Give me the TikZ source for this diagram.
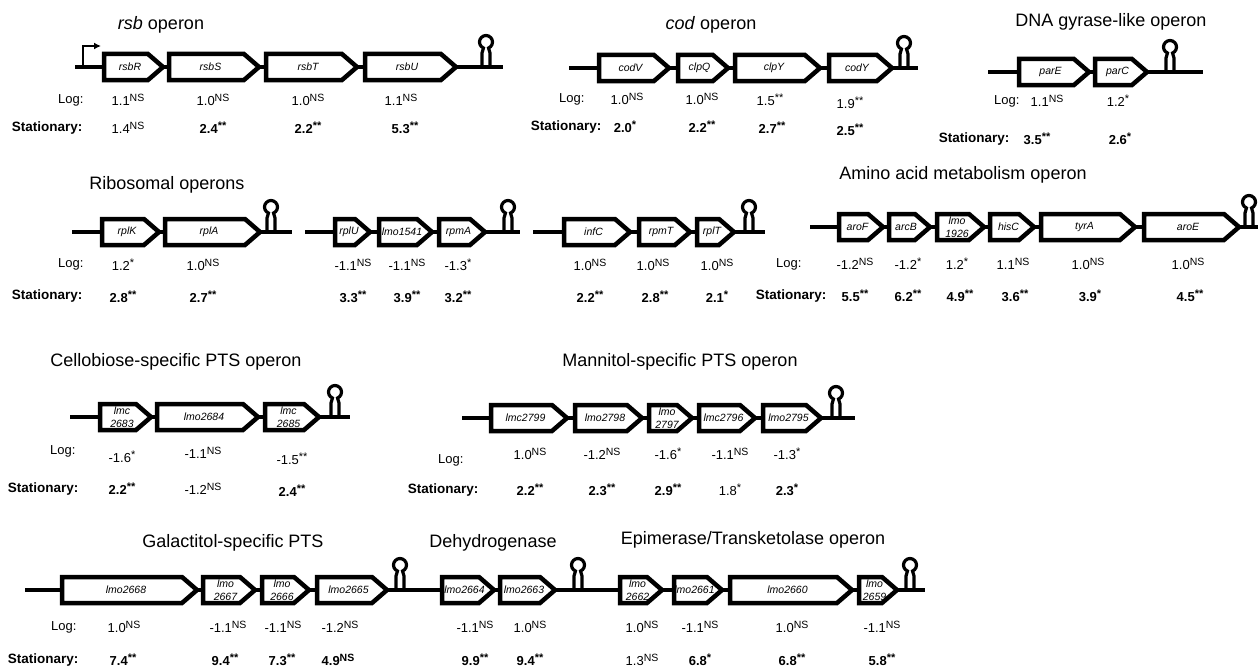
\documentclass[tikz,border=0pt]{standalone}
\usepackage{fontspec}
\setmainfont{Liberation Sans}
\usetikzlibrary{positioning,arrows.meta}

\newcommand{\sNS}{\raisebox{0.32em}{\fontsize{10.5}{11}\selectfont NS}}
\newcommand{\sA}{\raisebox{0.3em}{\fontsize{11}{11}\selectfont *}}
\newcommand{\sAA}{\raisebox{0.3em}{\fontsize{11}{11}\selectfont **}}
\newcommand{\bv}[1]{\textbf{#1}}
% gene: node name, left x, tip x, y, label
\newcommand{\gene}[5]{%
  \draw[genebox] ({#2+2},{-#4+\GeneHalf}) -- ({#3-3-\TipLen},{-#4+\GeneHalf}) -- ({#3-3},-#4)
    -- ({#3-3-\TipLen},{-#4-\GeneHalf}) -- ({#2+2},{-#4-\GeneHalf}) -- cycle;
  \node[genename] (#1) at ({(#2+#3-8)/2},-#4) {#5};}
% terminator: x, y
\newcommand{\hairpin}[2]{%
  \draw[dna] ({#1-4},-#2) -- ++(0,14) -- ++(1.46,5) arc[start angle=247,end angle=-67,radius=6.5]
    -- ++(1.46,-5) -- ++(0,-14);}

\begin{document}
\begin{tikzpicture}[x=1pt,y=1pt,
  genebox/.style={draw=black,fill=white,line width=4.5pt,line join=miter},
  genename/.style={font=\fontsize{10.5}{12.5}\selectfont\itshape,align=center,inner sep=0pt},
  dna/.style={line width=3.2pt},
  promoter/.style={line width=2pt,-{Latex[length=7pt,width=7pt]}},
  optitle/.style={font=\fontsize{18}{20}\selectfont},
  rowlabel/.style={font=\fontsize{13}{14}\selectfont,anchor=east},
  statlabel/.style={font=\fontsize{13.5}{15}\selectfont\bfseries,anchor=east},
  val/.style={font=\fontsize{13}{14}\selectfont}]
\pgfmathsetmacro{\GeneHalf}{13}
\pgfmathsetmacro{\TipLen}{15}
\useasboundingbox[fill=white] (0,0) rectangle (1258,-669);

% RSB
\node[optitle] (rsbtitle) at (161,-25) {\textit{rsb} operon};
\coordinate (rsbin) at (75,-67);
\coordinate (rsbout) at (503,-67);
\coordinate (rsbprom) at (83,-67);
\draw[dna] (rsbin) -- (rsbout);
\draw[promoter] (rsbprom) |- ++(18,21);
\gene{rsbR}{102}{166}{67}{rsbR}
\gene{rsbS}{167}{262}{67}{rsbS}
\gene{rsbT}{264}{360}{67}{rsbT}
\gene{rsbU}{363}{459}{67}{rsbU}
\hairpin{486}{67}
\node[rowlabel] (rsblog) at (87,-100) {Log:};
\foreach \x/\v [count=\i] in {128/{1.1\sNS},213/{1.0\sNS},308/{1.0\sNS},401/{1.1\sNS}}
  \node[val] (rsblog\i) at (\x,-100) {\v};
\node[statlabel] (rsbstat) at (86,-128) {Stationary:};
\foreach \x/\v [count=\i] in {128/{1.4\sNS},213/{\bv{2.4\sAA}},308/{\bv{2.2\sAA}},405/{\bv{5.3\sAA}}}
  \node[val] (rsbstat\i) at (\x,-128) {\v};

% COD
\node[optitle] (codtitle) at (711,-25) {\textit{cod} operon};
\coordinate (codin) at (569,-68);
\coordinate (codout) at (918,-68);
\draw[dna] (codin) -- (codout);
\gene{codV}{597}{672}{68}{codV}
\gene{clpQ}{676}{731}{68}{clpQ}
\gene{clpY}{733}{823}{68}{clpY}
\gene{codY}{827}{895}{68}{codY}
\hairpin{904}{68}
\node[rowlabel] (codlog) at (588,-99) {Log:};
\foreach \x/\y/\v [count=\i] in {627/99/{1.0\sNS},702/99/{1.0\sNS},770/100/{1.5\sAA},850/103/{1.9\sAA}}
  \node[val] (codlog\i) at (\x,-\y) {\v};
\node[statlabel] (codstat) at (605,-127) {Stationary:};
\foreach \x/\y/\v [count=\i] in {625/127/{2.0\sA},702/127/{2.2\sAA},772/128/{2.7\sAA},850/130/{2.5\sAA}}
  \node[val] (codstat\i) at (\x,-\y) {\bv{\v}};

% DNA GYRASE
\node[optitle] (partitle) at (1111,-22) {DNA gyrase-like operon};
\coordinate (parin) at (988,-72);
\coordinate (parout) at (1203,-72);
\draw[dna] (parin) -- (parout);
\gene{parE}{1017}{1092}{72}{parE}
\gene{parC}{1093}{1150}{72}{parC}
\hairpin{1170}{72}
\node[rowlabel] (parlog) at (1023,-101) {Log:};
\foreach \x/\v [count=\i] in {1047/{1.1\sNS},1118/{1.2\sA}}
  \node[val] (parlog\i) at (\x,-101) {\v};
\node[statlabel] (parstat) at (1013,-139) {Stationary:};
\foreach \x/\v [count=\i] in {1037/{3.5\sAA},1120/{2.6\sA}}
  \node[val] (parstat\i) at (\x,-139) {\bv{\v}};

% RIBOSOMAL
\node[optitle] (ribtitle) at (167,-185) {Ribosomal operons};
\coordinate (ribAin) at (72,-232);
\coordinate (ribAout) at (292,-232);
\draw[dna] (ribAin) -- (ribAout);
\gene{rplK}{100}{162}{232}{rplK}
\gene{rplA}{163}{263}{232}{rplA}
\hairpin{271}{232}
\coordinate (ribBin) at (305,-232);
\coordinate (ribBout) at (520,-232);
\draw[dna] (ribBin) -- (ribBout);
\gene{rplU}{333}{373}{232}{rplU}
\gene{lmo1541}{377}{435}{232}{lmo1541}
\gene{rpmA}{437}{488}{232}{rpmA}
\hairpin{508}{232}
\coordinate (ribCin) at (533,-232);
\coordinate (ribCout) at (765,-232);
\draw[dna] (ribCin) -- (ribCout);
\gene{infC}{562}{633}{232}{infC}
\gene{rpmT}{637}{693}{232}{rpmT}
\gene{rplT}{695}{737}{232}{rplT}
\hairpin{749}{232}
\node[rowlabel] (riblog) at (87,-264) {Log:};
\foreach \x/\v [count=\i] in {123/{1.2\sA},203/{1.0\sNS},353/{-1.1\sNS},407/{-1.1\sNS},458/{-1.3\sA},590/{1.0\sNS},653/{1.0\sNS},717/{1.0\sNS}}
  \node[val] (riblog\i) at (\x,-265) {\v};
\node[statlabel] (ribstat) at (86,-296) {Stationary:};
\foreach \x/\v [count=\i] in {123/{2.8\sAA},203/{2.7\sAA},353/{3.3\sAA},407/{3.9\sAA},458/{3.2\sAA},590/{2.2\sAA},655/{2.8\sAA},717/{2.1\sA}}
  \node[val] (ribstat\i) at (\x,-297) {\bv{\v}};

% AMINO ACID
\node[optitle] (arotitle) at (963,-175) {Amino acid metabolism operon};
\coordinate (aroin) at (810,-227);
\coordinate (aroout) at (1258,-227);
\draw[dna] (aroin) -- (aroout);
\gene{aroF}{837}{886}{227}{aroF}
\gene{arcB}{887}{933}{227}{arcB}
\gene{lmo1926}{935}{987}{227}{lmo\\1926}
\gene{hisC}{988}{1037}{227}{hisC}
\gene{tyrA}{1039}{1138}{227}{tyrA}
\gene{aroE}{1142}{1242}{227}{aroE}
\hairpin{1249}{227}
\node[rowlabel] (arolog) at (805,-264) {Log:};
\foreach \x/\v [count=\i] in {855/{-1.2\sNS},908/{-1.2\sA},957/{1.2\sA},1013/{1.1\sNS},1088/{1.0\sNS},1188/{1.0\sNS}}
  \node[val] (arolog\i) at (\x,-264) {\v};
\node[statlabel] (arostat) at (830,-296) {Stationary:};
\foreach \x/\v [count=\i] in {855/{5.5\sAA},908/{6.2\sAA},960/{4.9\sAA},1015/{3.6\sAA},1090/{3.9\sA},1190/{4.5\sAA}}
  \node[val] (arostat\i) at (\x,-296) {\bv{\v}};

% CELLOBIOSE
\node[optitle] (celtitle) at (176,-362) {Cellobiose-specific PTS operon};
\coordinate (celin) at (70,-417);
\coordinate (celout) at (350,-417);
\draw[dna] (celin) -- (celout);
\gene{lmc2683}{98}{154}{417}{lmc\\2683}
\gene{lmo2684}{155}{261}{417}{lmo2684}
\gene{lmc2685}{263}{322}{417}{lmc\\2685}
\hairpin{335}{417}
\node[rowlabel] (cellog) at (79,-451) {Log:};
\foreach \x/\y/\v [count=\i] in {122/457/{-1.6\sA},203/453/{-1.1\sNS},292/459/{-1.5\sAA}}
  \node[val] (cellog\i) at (\x,-\y) {\v};
\node[statlabel] (celstat) at (82,-489) {Stationary:};
\foreach \x/\y/\v [count=\i] in {122/489/{\bv{2.2\sAA}},203/489/{-1.2\sNS},292/491/{\bv{2.4\sAA}}}
  \node[val] (celstat\i) at (\x,-\y) {\v};

% MANNITOL
\node[optitle] (mtltitle) at (680,-362) {Mannitol-specific PTS operon};
\coordinate (mtlin) at (462,-418);
\coordinate (mtlout) at (855,-418);
\draw[dna] (mtlin) -- (mtlout);
\gene{lmc2799}{489}{570}{418}{lmc2799}
\gene{lmo2798}{573}{645}{418}{lmo2798}
\gene{lmo2797}{647}{695}{418}{lmo\\2797}
\gene{lmc2796}{697}{758}{418}{lmc2796}
\gene{lmo2795}{761}{824}{418}{lmo2795}
\hairpin{836}{418}
\node[rowlabel] (mtllog) at (467,-460) {Log:};
\foreach \x/\v [count=\i] in {530/{1.0\sNS},602/{-1.2\sNS},668/{-1.6\sA},730/{-1.1\sNS},787/{-1.3\sA}}
  \node[val] (mtllog\i) at (\x,-454) {\v};
\node[statlabel] (mtlstat) at (482,-490) {Stationary:};
\foreach \x/\v [count=\i] in {530/{\bv{2.2\sAA}},602/{\bv{2.3\sAA}},668/{\bv{2.9\sAA}},730/{1.8\sA},787/{\bv{2.3\sA}}}
  \node[val] (mtlstat\i) at (\x,-490) {\v};

% GALACTITOL, DEHYDROGENASE, EPIMERASE
\node[optitle] (gattitle) at (233,-543) {Galactitol-specific PTS};
\node[optitle] (dehtitle) at (493,-543) {Dehydrogenase};
\node[optitle] (epititle) at (753,-540) {Epimerase/Transketolase operon};
\coordinate (gatin) at (25,-590);
\coordinate (epiout) at (925,-590);
\draw[dna] (gatin) -- (epiout);
\gene{lmo2668}{60}{200}{590}{lmo2668}
\gene{lmo2667}{201}{258}{590}{lmo\\2667}
\gene{lmo2666}{260}{312}{590}{lmo\\2666}
\gene{lmo2665}{315}{390}{590}{lmo2665}
\hairpin{400}{590}
\gene{lmo2664}{440}{497}{590}{lmo2664}
\gene{lmo2663}{498}{558}{590}{lmo2663}
\hairpin{578}{590}
\gene{lmo2662}{618}{665}{590}{lmo\\2662}
\gene{lmo2661}{672}{725}{590}{lmo2661}
\gene{lmo2660}{728}{855}{590}{lmo2660}
\gene{lmo2659}{857}{900}{590}{lmo\\2659}
\hairpin{910}{590}
\node[rowlabel] (gatlog) at (80,-627) {Log:};
\foreach \x/\v [count=\i] in {124/{1.0\sNS},228/{-1.1\sNS},283/{-1.1\sNS},340/{-1.2\sNS},475/{-1.1\sNS},530/{1.0\sNS},642/{1.0\sNS},700/{-1.1\sNS},792/{1.0\sNS},882/{-1.1\sNS}}
  \node[val] (gatlog\i) at (\x,-627) {\v};
\node[statlabel] (gatstat) at (82,-660) {Stationary:};
\foreach \x/\v [count=\i] in {123/{\bv{7.4\sAA}},225/{\bv{9.4\sAA}},282/{\bv{7.3\sAA}},338/{\bv{4.9\sNS}},475/{\bv{9.9\sAA}},530/{\bv{9.4\sAA}},642/{1.3\sNS},700/{\bv{6.8\sA}},792/{\bv{6.8\sAA}},882/{\bv{5.8\sAA}}}
  \node[val] (gatstat\i) at (\x,-660) {\v};
\end{tikzpicture}
\end{document}
